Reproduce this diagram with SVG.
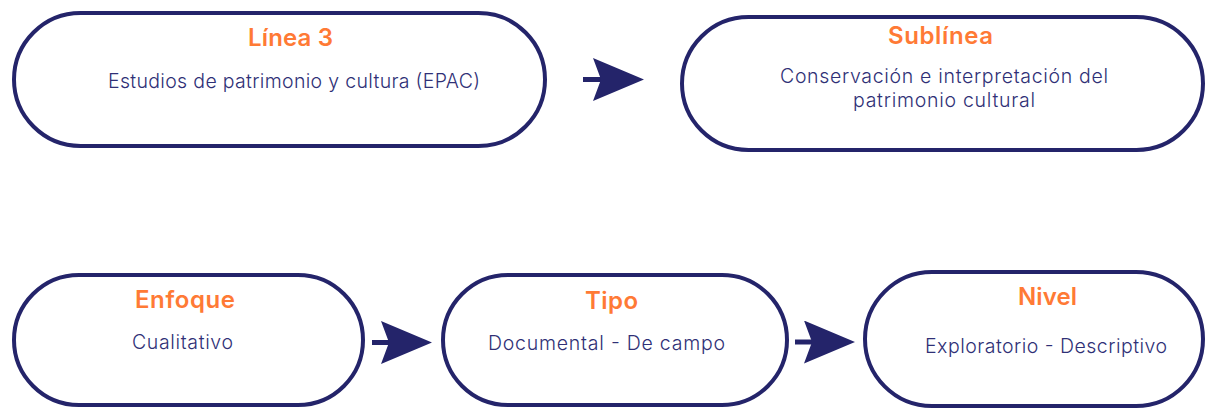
<svg xmlns="http://www.w3.org/2000/svg" width="1205" height="409" viewBox="0 0 1205 409">
  <defs>
    <style>
      .pill { fill: #ffffff; stroke: #24246A; stroke-width: 4; }
      .title { font-family: Inter, "Noto Sans", "Liberation Sans", sans-serif; font-size: 24px; font-weight: 600; fill: #FF7A35; text-anchor: middle; }
      .body { font-family: Inter, "Noto Sans", "Liberation Sans", sans-serif; font-size: 19.5px; font-weight: 300; fill: #2F3076; text-anchor: middle; }
      .conn { stroke: #24246A; stroke-width: 5; fill: none; }
    </style>
    <marker id="arrow" markerUnits="userSpaceOnUse" markerWidth="53" markerHeight="45" refX="8" refY="21.5" orient="auto" viewBox="0 0 53 45">
      <path d="M0,0 L51,21.5 L0,43 L8,21.5 Z" fill="#24246A"/>
    </marker>
  </defs>
  <rect width="1205" height="409" fill="#ffffff"/>

  <g id="connectors">
    <line class="conn" x1="583" y1="79.5" x2="601" y2="79.5" marker-end="url(#arrow)"/>
    <line class="conn" x1="372" y1="342.5" x2="389" y2="342.5" marker-end="url(#arrow)"/>
    <line class="conn" x1="795" y1="342" x2="812" y2="342" marker-end="url(#arrow)"/>
  </g>

  <g id="node-linea3">
    <rect class="pill" x="14" y="13" width="531" height="133" rx="66.5"/>
    <text class="title" x="290.5" y="46" textLength="85">Línea 3</text>
    <text class="body" x="294" y="88" textLength="372">Estudios de patrimonio y cultura (EPAC)</text>
  </g>

  <g id="node-sublinea">
    <rect class="pill" x="682" y="17" width="521" height="133" rx="66.5"/>
    <text class="title" x="940.5" y="44" textLength="105">Sublínea</text>
    <text class="body" x="944" y="83" textLength="328">Conservación e interpretación del</text>
    <text class="body" x="944" y="107" textLength="182">patrimonio cultural</text>
  </g>

  <g id="node-enfoque">
    <rect class="pill" x="14" y="275" width="349" height="130" rx="65"/>
    <text class="title" x="185" y="308" textLength="100">Enfoque</text>
    <text class="body" x="182.5" y="349" textLength="101">Cualitativo</text>
  </g>

  <g id="node-tipo">
    <rect class="pill" x="443" y="275" width="344" height="130" rx="65"/>
    <text class="title" x="611.5" y="309" textLength="53">Tipo</text>
    <text class="body" x="606.5" y="350" textLength="237">Documental - De campo</text>
  </g>

  <g id="node-nivel">
    <rect class="pill" x="865" y="272" width="338" height="134" rx="67"/>
    <text class="title" x="1047.5" y="305" textLength="59">Nivel</text>
    <text class="body" x="1046" y="353" textLength="242">Exploratorio - Descriptivo</text>
  </g>
</svg>
